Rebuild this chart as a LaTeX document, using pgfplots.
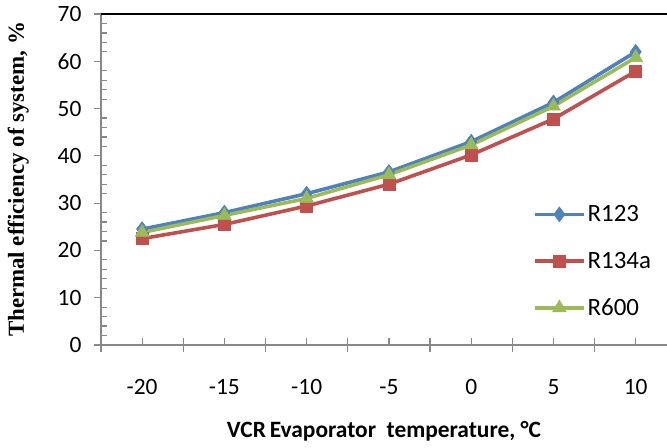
\documentclass[border=0pt]{standalone}
\usepackage{pgfplots}
\pgfplotsset{compat=1.18}
\usepackage{fontspec}
\setmainfont{Carlito}
\newfontfamily\tnr{Liberation Serif}
\definecolor{cblue}{HTML}{4F81BD}
\definecolor{cred}{HTML}{C0504D}
\definecolor{cgreen}{HTML}{9BBB59}
\definecolor{axgray}{HTML}{888888}
\begin{document}
\begin{tikzpicture}
\begin{axis}[
  at={(0,0)}, anchor=south west,
  scale only axis, width=566bp, height=331bp,
  xmin=-0.5, xmax=6.38, ymin=0, ymax=70,
  axis x line*=bottom, axis y line*=left,
  axis line style={axgray, line width=1.2bp},
  every tick/.style={axgray, line width=1.2bp},
  /pgf/number format/assume math mode=true,
  tick label style={font=\fontsize{23.5}{28}\selectfont, black},
  xtick={0,...,6},
  xticklabels={-20,-15,-10,-5,0,5,10},
  xticklabel style={yshift=-31bp},
  extra x ticks={-0.5,0.5,1.5,2.5,3.5,4.5,5.5},
  extra x tick labels={},
  extra x tick style={tick align=center, major tick length=14bp},
  ytick={0,10,...,70},
  minor y tick num=4,
  tick align=inside,
  major tick length=7bp, minor tick length=6bp,
  major y tick style={xshift=-7bp},
  y tick label style={xshift=-16bp},
  xlabel={\bfseries VCR\,Evaporator\ \ temperature, °C},
  xlabel style={font=\fontsize{23.5}{28}\selectfont, inner sep=0pt, yshift=-16bp},
  ylabel={\tnr\bfseries Thermal efficiency of system, \%},
  ylabel style={font=\fontsize{23}{27}\selectfont, yshift=22bp},
  clip=false,
  legend style={at={(rel axis cs:0.763,0.428)}, anchor=north west, draw=none, fill=none,
    font=\fontsize{25}{30}\selectfont, row sep=25bp, inner sep=0pt,
    /tikz/every even column/.append style={column sep=8bp}},
  legend cell align=left,
  legend image code/.code={\draw[mark repeat=2,mark phase=2] plot coordinates {(0bp,0bp) (24.5bp,0bp) (49bp,0bp)};},
  every axis plot/.append style={line width=3.6bp},
]
\addplot[cblue, mark=diamond*, mark size=7.5bp, mark options={solid, line width=0.5bp}] coordinates {
(0,24.5) (1,28.0) (2,32.0) (3,36.6) (4,43.0) (5,51.3) (6,62.0)};
\addlegendentry{R123}
\addplot[cred, mark=square*, mark size=6bp, mark options={solid, line width=0.5bp}] coordinates {
(0,22.5) (1,25.5) (2,29.4) (3,34.0) (4,40.2) (5,47.8) (6,57.9)};
\addlegendentry{R134a}
\addplot[cgreen, mark=triangle*, mark size=8bp, mark options={solid, line width=0.5bp}] coordinates {
(0,23.8) (1,27.4) (2,31.0) (3,36.0) (4,42.3) (5,50.5) (6,60.8)};
\addlegendentry{R600}
\draw[black, line width=1.3bp] (rel axis cs:0,1) -- (rel axis cs:1,1);
\end{axis}
\pgfresetboundingbox
\path[use as bounding box] (-101bp,-103bp) rectangle (566bp,345bp);
\end{tikzpicture}
\end{document}
